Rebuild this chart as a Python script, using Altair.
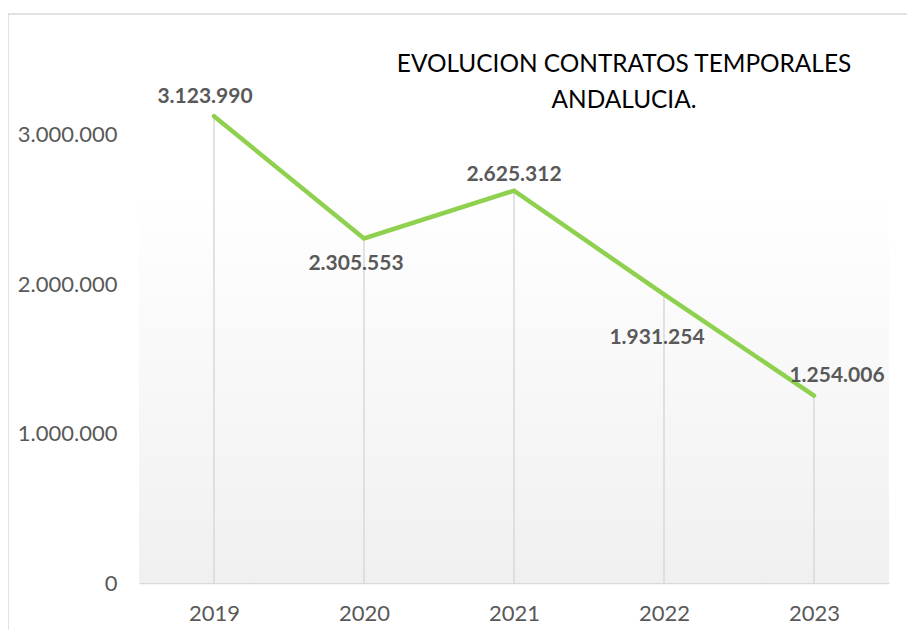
import altair as alt
import pandas as pd

years = ["2019", "2020", "2021", "2022", "2023"]
contratos = [3123990, 2305553, 2625312, 1931254, 1254006]
y_ticks = [0, 1000000, 2000000, 3000000]
title_lines = ["EVOLUCION CONTRATOS TEMPORALES", "ANDALUCIA."]


def fmt(v):
    return f"{v:,}".replace(",", ".")


df = pd.DataFrame({"year": years, "value": contratos, "label": [fmt(v) for v in contratos]})

W, H = 750, 523
FONT = "Lato"

x_enc = alt.X("year:N", sort=years,
              scale=alt.Scale(type="point", padding=0.5),
              axis=alt.Axis(title=None, labelAngle=0, labelFont=FONT, labelFontSize=22,
                            labelColor="#595959", labelPadding=20, ticks=False,
                            domainColor="#d9d9d9", domainWidth=1.5, grid=False))
y_scale = alt.Scale(domain=[0, 3500000], nice=False)
y_enc = alt.Y("value:Q", scale=y_scale,
              axis=alt.Axis(title=None, values=y_ticks, labelFont=FONT, labelFontSize=22,
                            labelColor="#595959", labelPadding=22, ticks=False, domain=False,
                            grid=False,
                            labelExpr="replace(format(datum.value, ','), /,/g, '.')"))

base = alt.Chart(df)

bg = base.mark_rect(
    color=alt.Gradient(gradient="linear",
                       stops=[alt.GradientStop(color="#ffffff", offset=0),
                              alt.GradientStop(color="#ffffff", offset=0.25),
                              alt.GradientStop(color="#f0f0f0", offset=1)],
                       x1=0, y1=0, x2=0, y2=1)
).encode(x=alt.value(0), x2=alt.value(W), y=alt.value(0), y2=alt.value(H))

drops = base.mark_rule(color="#d9d9d9", strokeWidth=1.5).encode(
    x=x_enc, y=y_enc, y2=alt.datum(0))

line = base.mark_line(color="#8fd14f", strokeWidth=4.5, strokeCap="round").encode(
    x=x_enc, y=y_enc)

offsets = {"2019": (-9, -19), "2020": (-8, 26), "2021": (0, -16),
           "2022": (-7, 44), "2023": (23, -20)}
label_layers = []
for yr in years:
    dx, dy = offsets[yr]
    label_layers.append(
        base.transform_filter(alt.datum.year == yr).mark_text(
            font=FONT, fontSize=21, fontWeight="bold", color="#595959",
            baseline="middle", align="center", dx=dx, dy=dy
        ).encode(x=x_enc, y=y_enc, text="label:N"))

title = base.transform_filter(alt.datum.year == years[0]).mark_text(
    text=title_lines, font=FONT, fontSize=24.4, color="#000000", align="center",
    baseline="alphabetic", lineHeight=36
).encode(x=alt.value(485), y=alt.value(12))

border = base.transform_filter(alt.datum.year == years[0]).mark_rect(
    fillOpacity=0, stroke="#d9d9d9", strokeWidth=1.5
).encode(x=alt.value(-131), y=alt.value(-46), x2=alt.value(W + 60), y2=alt.value(H + 80))

chart = alt.layer(bg, drops, line, *label_layers, title, border).properties(
    width=W, height=H,
    padding={"left": 131, "top": 52, "right": 18, "bottom": 47},
    autosize=alt.AutoSizeParams(type="none"),
    background="#ffffff",
).configure_view(stroke=None)

chart.save("out.html", embed_options={"renderer": "svg", "actions": False})
